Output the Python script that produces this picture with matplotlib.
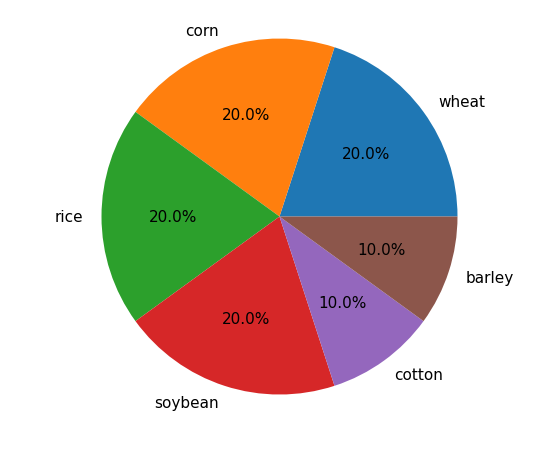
import matplotlib
matplotlib.use("Agg")
import matplotlib.pyplot as plt

labels = ["wheat", "corn", "rice", "soybean", "cotton", "barley"]
values = [20, 20, 20, 20, 10, 10]

fig = plt.figure(figsize=(5.6, 4.52), dpi=100)
ax = fig.add_axes([0.1018, 0.0265, 0.7946, 0.9845])
ax.pie(values, labels=labels, autopct="%1.1f%%", textprops={"fontsize": 11})
ax.set_aspect("equal")
fig.savefig("out.png", dpi=100)
